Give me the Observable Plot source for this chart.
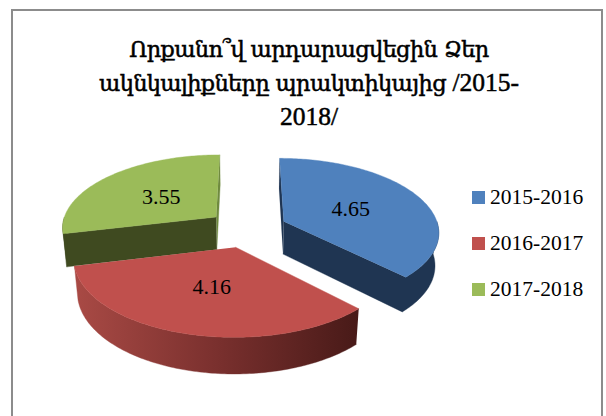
<!DOCTYPE html>
<html>
<head>
<meta charset="utf-8">
<script src="https://cdn.jsdelivr.net/npm/d3@7"></script>
<script src="https://cdn.jsdelivr.net/npm/@observablehq/plot@0.6"></script>
<style>
html,body{margin:0;padding:0;background:#fff;overflow:hidden}
#wrap{position:relative;width:606px;height:416px;overflow:hidden;background:#fff}
#frame{position:absolute;left:11px;top:9px;width:592px;height:420px;border:2px solid #8c8c8c;box-sizing:border-box}
#title{position:absolute;left:11px;width:596px;top:33px;text-align:center;font-family:"DejaVu Serif",serif;font-size:22.5px;letter-spacing:-0.65px;-webkit-text-stroke:0.5px #000;line-height:33px;color:#000}
#title span{font-family:"Liberation Serif",serif;font-size:25.5px;letter-spacing:0}
#legend{position:absolute;left:472px;top:182px;font-family:"Liberation Serif",serif;font-size:21.5px;color:#000}
#legend div{display:flex;align-items:center;height:30px;margin-bottom:16px}
#legend i{display:block;width:13px;height:13px;margin-right:5px}
svg{position:absolute;left:0;top:0}
</style>
</head>
<body>
<div id="wrap">
  <div id="frame"></div>
  <div id="plot"></div>
  <div id="title"></div>
  <div id="legend"></div>
</div>
<script>
const titleLines = ["Որքանո՞վ արդարացվեցին Ձեր", "ակնկալիքները պրակտիկայից /2015-", "2018/"];
const categories = ["2015-2016", "2016-2017", "2017-2018"];
const values = [4.65, 4.16, 3.55];
const topColors = ["#4F81BD", "#C0504D", "#9BBB59"];
const sideColors = ["#1F3552", "url(#redSide)", "#3F4A20"];
const innerColors = ["#1F3552", "#4A1B19", "#6F8A3E"];
const redStops = [[0, "#A94A45"], [0.5, "#7A302E"], [1, "#481A18"]];

// 3D pie view
const explode = 0.259, persp = 0.13, perspDepth = 0.02, depth = 0.46, labelAt = 0.49;
const total = d3.sum(values);
let acc = 0;
const slices = values.map((v, i) => {
  const a0 = acc / total * 2 * Math.PI; acc += v;
  const a1 = acc / total * 2 * Math.PI;
  const mid = (a0 + a1) / 2;
  return {i, a0, a1, ou: explode * Math.sin(mid), ov: -explode * Math.cos(mid), mid};
});
function project(u, v, z) {
  const s = 1 / (1 - persp * v + perspDepth * z);
  return {x: u * s, y: (v + depth * z) * s};
}
const rim = (sl, a, z) => project(sl.ou + Math.sin(a), sl.ov - Math.cos(a), z);
const apex = (sl, z) => project(sl.ou, sl.ov, z);
function arcAngles(a0, a1) {
  const n = Math.max(2, Math.ceil((a1 - a0) / (Math.PI / 180)));
  return d3.range(n + 1).map(k => a0 + (a1 - a0) * k / n);
}
const topFace = sl => [apex(sl, 0), ...arcAngles(sl.a0, sl.a1).map(a => rim(sl, a, 0))];
const cutFace = (sl, a) => [apex(sl, 0), rim(sl, a, 0), rim(sl, a, 1), apex(sl, 1)];
function outerFace(sl) {
  const from = Math.max(sl.a0, Math.PI / 2), to = Math.min(sl.a1, 3 * Math.PI / 2);
  if (to <= from) return [];
  const as = arcAngles(from, to);
  return [...as.map(a => rim(sl, a, 0)), ...as.slice().reverse().map(a => rim(sl, a, 1))];
}
// the outer wall and the end cut of a slice as one seamless outline
function wallAndCut(sl) {
  const as = arcAngles(Math.PI / 2, sl.a1);
  return [apex(sl, 0), ...as.slice().reverse().map(a => rim(sl, a, 0)), ...as.map(a => rim(sl, a, 1)), apex(sl, 1)];
}
const face = (pts, fill, w = 0.4) => Plot.line(pts, {x: "x", y: "y", fill, stroke: fill, strokeWidth: w, curve: "linear"});
const [blue, red, green] = slices;

const cx = 246.6, cy = 228, R = 155, Ry = 73;
const gradient = () => {
  const defs = d3.create("svg:defs");
  const g = defs.append("linearGradient").attr("id", "redSide");
  redStops.forEach(([o, c]) => g.append("stop").attr("offset", o).attr("stop-color", c));
  return defs.node();
};
const labels = slices.map(sl => ({
  ...project(sl.ou + labelAt * Math.sin(sl.mid), sl.ov - labelAt * Math.cos(sl.mid), 0),
  text: values[sl.i].toFixed(2)
}));

const chart = Plot.plot({
  width: 606, height: 416, margin: 0,
  style: {background: "transparent"},
  x: {domain: [-1, 1], range: [cx - R, cx + R], axis: null},
  y: {domain: [-1, 1], range: [cy - Ry, cy + Ry], axis: null},
  marks: [
    gradient,
    // back to front: green, blue, red
    face(cutFace(green, green.a1), innerColors[2]),
    face(cutFace(green, green.a0), sideColors[2]),
    face(outerFace(green), sideColors[2]),
    face(topFace(green), topColors[2]),
    face(cutFace(blue, blue.a0), innerColors[0], 0.1),
    face(wallAndCut(blue), sideColors[0]),
    face(topFace(blue), topColors[0]),
    face(outerFace(red), sideColors[1]),
    face(topFace(red), topColors[1]),
    Plot.text(labels, {x: "x", y: "y", text: "text", fontSize: 22, fontFamily: "Liberation Serif", fill: "#000", textAnchor: "middle", lineAnchor: "middle"})
  ]
});
document.getElementById("plot").appendChild(chart);

const titleEl = document.getElementById("title");
titleLines.forEach(t => {
  const d = document.createElement("div");
  t.split(/([0-9\/-]+)/).forEach((part, k) => {
    if (k % 2) { const s = document.createElement("span"); s.textContent = part; d.appendChild(s); }
    else d.appendChild(document.createTextNode(part));
  });
  titleEl.appendChild(d);
});
const legendEl = document.getElementById("legend");
categories.forEach((c, i) => {
  const row = document.createElement("div");
  const sw = document.createElement("i"); sw.style.background = topColors[i];
  const tx = document.createElement("span"); tx.textContent = c;
  row.append(sw, tx); legendEl.appendChild(row);
});
</script>
</body>
</html>
